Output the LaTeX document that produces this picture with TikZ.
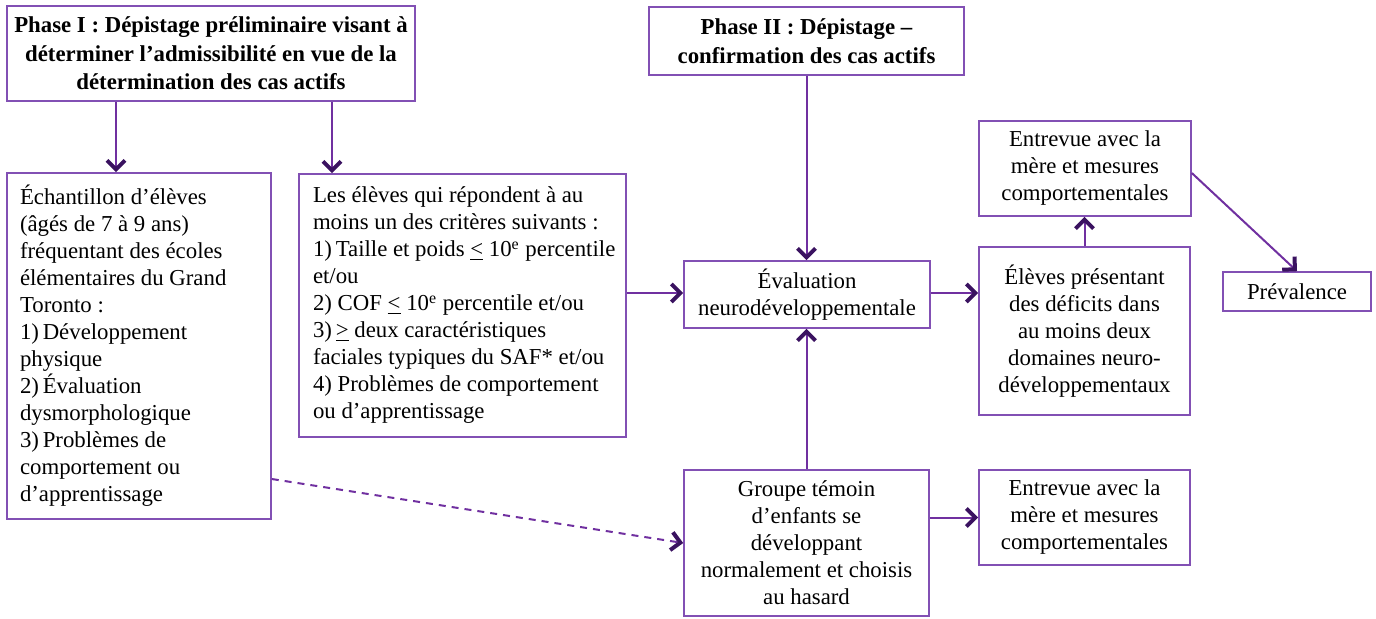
\documentclass[tikz,border=0pt]{standalone}
\usepackage{fontspec}
\setmainfont{Liberation Serif}
\usetikzlibrary{arrows.meta}
\definecolor{boxc}{HTML}{8250B4}
\definecolor{arrc}{HTML}{7030A0}
\definecolor{headc}{HTML}{3A1260}
\begin{document}
\begin{tikzpicture}[x=0.5pt,y=-0.5pt,
  txt/.style={font=\fontsize{11.4pt}{13.5pt}\selectfont},
  box/.style={draw=boxc,line width=0.8pt,inner sep=0pt,align=flush center,txt},
  lbox/.style={box,align=flush left},
  ttl/.style={box,font=\fontsize{11.4pt}{14.2pt}\selectfont\bfseries},
  arr/.style={draw=arrc,line width=1pt,-{Straight Barb[length=4.5pt,width=9pt,line width=2pt,color=headc]}},
  darr/.style={draw=arrc,line width=1pt,dash pattern=on 3.5pt off 3pt,-{Straight Barb[length=4.5pt,width=9pt,line width=2pt,color=headc]}}]
\useasboundingbox (0,0) rectangle (1376,618);

\node[ttl,minimum width=204pt,minimum height=47.5pt] (p1) at (211,53.5)
  {Phase I : Dépistage préliminaire visant à\\déterminer l’admissibilité en vue de la\\détermination des cas actifs};
\node[ttl,minimum width=157.5pt,minimum height=34pt] (p2) at (806.5,41)
  {Phase II : Dépistage –\\confirmation des cas actifs};

\node[lbox,text width=119pt,minimum width=132pt,minimum height=173pt] (ech) at (139,346)
  {Échantillon d’élèves\\(âgés de 7 à 9 ans)\\fréquentant des écoles\\élémentaires du Grand\\Toronto :\\1)\,Développement\\physique\\2)\,Évaluation\\dysmorphologique\\3)\,Problèmes de\\comportement ou\\d’apprentissage};

\node[lbox,text width=149.5pt,minimum width=163.5pt,minimum height=131.5pt] (crit) at (462.5,305.5)
  {\mbox{Les élèves qui répondent à au}\\\mbox{moins un des critères suivants :}\\\mbox{1)\,Taille et poids \underline{<} 10\textsuperscript{e} percentile}\\et/ou\\\mbox{2) COF \underline{<} 10\textsuperscript{e} percentile et/ou}\\\mbox{3)\,\underline{>} deux caractéristiques}\\\mbox{faciales typiques du SAF* et/ou}\\\mbox{4) Problèmes de comportement}\\ou d’apprentissage};

\node[box,minimum width=123pt,minimum height=33.5pt] (eval) at (807,294.5)
  {Évaluation\\neurodéveloppementale};
\node[box,minimum width=105.5pt,minimum height=84pt] (elv) at (1084.5,331)
  {Élèves présentant\\des déficits dans\\au moins deux\\domaines neuro-\\développementaux};
\node[box,minimum width=106pt,minimum height=47.5pt] (ent1) at (1085,168.5)
  {Entrevue avec la\\mère et mesures\\comportementales};
\node[box,minimum width=74pt,minimum height=19.5pt] (prev) at (1297,291.5)
  {Prévalence};
\node[box,minimum width=122.5pt,minimum height=73pt] (grp) at (806.5,543)
  {Groupe témoin\\d’enfants se\\développant\\normalement et choisis\\au hasard};
\node[box,minimum width=105.5pt,minimum height=47.5pt] (ent2) at (1084.5,517.5)
  {Entrevue avec la\\mère et mesures\\comportementales};

\coordinate (a1) at (116,0);
\coordinate (a2) at (332,0);
\coordinate (yh) at (0,293);

\draw[arr] (a1 |- p1.south) -- (a1 |- ech.north);
\draw[arr] (a2 |- p1.south) -- (a2 |- crit.north);
\draw[arr] (yh -| crit.east) -- (yh -| eval.west);
\draw[arr] (yh -| eval.east) -- (yh -| elv.west);
\draw[arr] (p2.south) -- (p2.south |- eval.north);
\draw[arr] (grp.north) -- (grp.north |- eval.south);
\draw[arr] (elv.north) -- (elv.north |- ent1.south);
\draw[arr] (ent2.west -| grp.east) -- (ent2.west);
\draw[arr] ([yshift=-2.25pt]ent1.east) -- (prev.north);
\draw[darr] ([yshift=-66.5pt]ech.east) -- (grp.west);
\end{tikzpicture}
\end{document}
